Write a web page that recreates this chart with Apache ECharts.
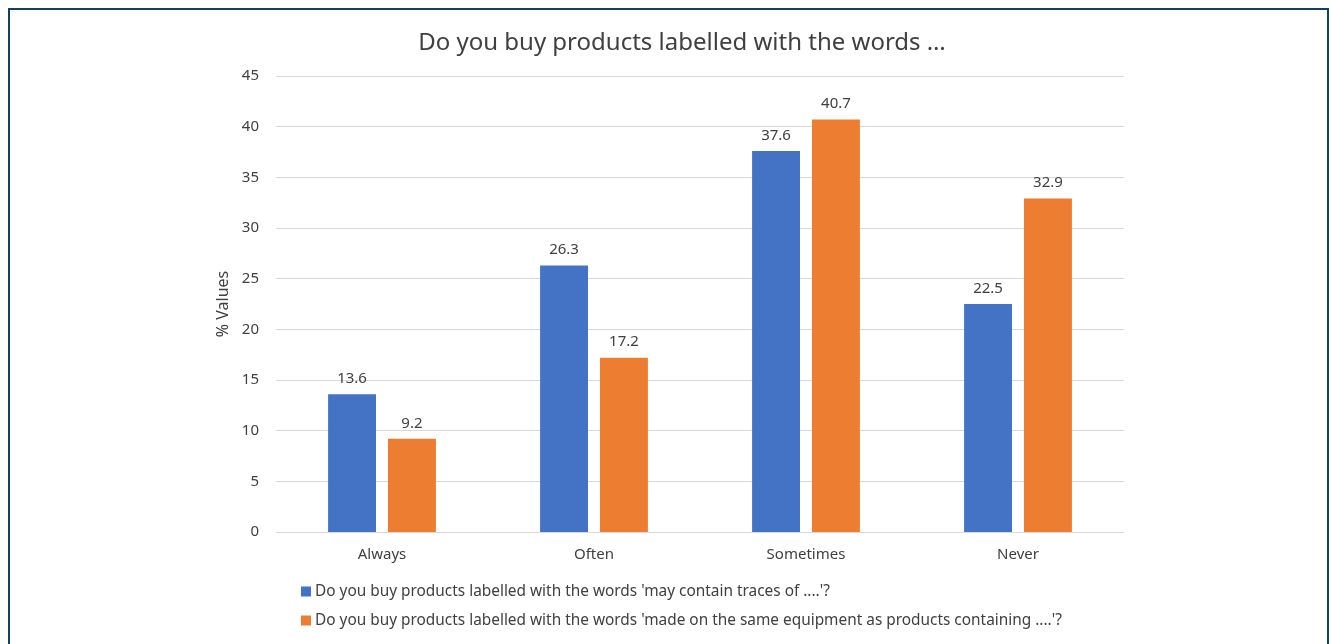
<!DOCTYPE html>
<html><head><meta charset="utf-8">
<script src="https://cdn.jsdelivr.net/npm/echarts@6/dist/echarts.min.js"></script>
<style>
html,body{margin:0;padding:0;background:#fff;}
#frame{position:absolute;left:8px;top:8px;width:1321px;height:650px;border:2px solid #12405e;box-sizing:border-box;}
#chart{position:absolute;left:0;top:0;width:1331px;height:644px;}
</style></head>
<body>
<div id="frame"></div>
<div id="chart"></div>
<script>
const categories = ['Always', 'Often', 'Sometimes', 'Never'];
const seriesNames = [
  "Do you buy products labelled with the words 'may contain traces of ....'?",
  "Do you buy products labelled with the words 'made on the same equipment as products containing ....'?"
];
const mayContain = [13.6, 26.3, 37.6, 22.5];
const sameEquipment = [9.2, 17.2, 40.7, 32.9];
const colors = ['#4472c4', '#ed7d31'];
const font = 'Noto Sans';

const chart = echarts.init(document.getElementById('chart'));
const labelOpt = {show: true, position: 'top', distance: 8, color: '#404040', fontSize: 15, fontFamily: font, formatter: p => p.value.toFixed(1)};
chart.setOption({
  animation: false,
  title: {text: 'Do you buy products labelled with the words …', left: 677, top: 26, textAlign: 'center',
    textStyle: {fontFamily: font, fontSize: 24, fontWeight: 'normal', color: '#404040'}},
  grid: {left: 276, right: 207, top: 76, bottom: 112},
  legend: {left: 296, top: 579, orient: 'vertical', itemGap: 14, itemWidth: 10, itemHeight: 10, icon: 'rect',
    textStyle: {fontFamily: font, fontSize: 15.4, color: '#404040', padding: [0, 0, 0, -1]}, itemStyle: {borderWidth: 0}},
  xAxis: {type: 'category', data: categories,
    axisLine: {lineStyle: {color: '#d9d9d9'}}, axisTick: {show: false},
    axisLabel: {color: '#404040', fontSize: 15, fontFamily: font, margin: 15}},
  yAxis: {type: 'value', min: 0, max: 45, interval: 5, name: '% Values', nameLocation: 'middle', nameGap: 40,
    nameTextStyle: {color: '#404040', fontSize: 16, fontFamily: font},
    axisLabel: {color: '#404040', fontSize: 15, fontFamily: font, margin: 17},
    splitLine: {lineStyle: {color: '#d9d9d9'}}},
  series: [
    {name: seriesNames[0], type: 'bar', data: mayContain, itemStyle: {color: colors[0]}, barWidth: '22.6%', barGap: '25%', label: labelOpt},
    {name: seriesNames[1], type: 'bar', data: sameEquipment, itemStyle: {color: colors[1]}, barWidth: '22.6%', label: labelOpt}
  ]
});
</script>
</body></html>
